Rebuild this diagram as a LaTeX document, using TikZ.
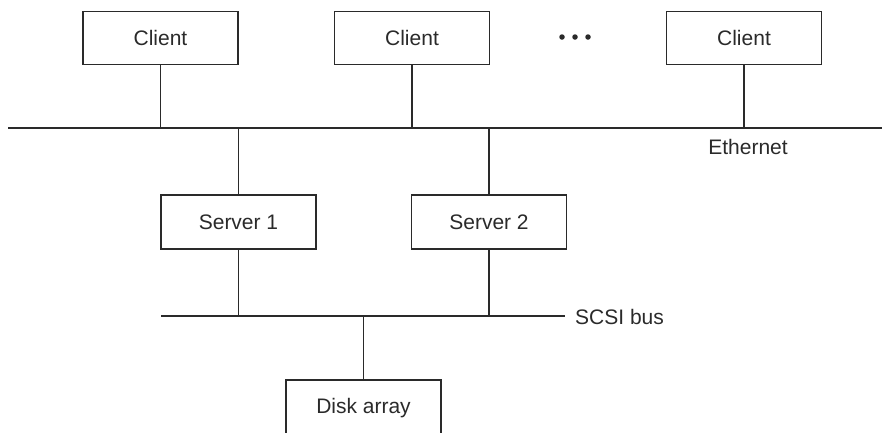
\documentclass[tikz,border=0pt]{standalone}
\usepackage{fontspec}
\setmainfont{Liberation Sans}
\definecolor{ink}{HTML}{2A2A2A}
\begin{document}
\begin{tikzpicture}[x=1pt,y=-1pt,
  box/.style={draw=ink,line width=1.1pt,minimum width=155pt,minimum height=53pt,inner sep=0pt,font=\fontsize{21}{24}\selectfont,text=ink},
  wire/.style={draw=ink,line width=1.1pt},
  lbl/.style={font=\fontsize{21}{24}\selectfont,text=ink,inner sep=0pt},
  dot/.style={circle,fill=ink,minimum size=5.5pt,inner sep=0pt}]
\useasboundingbox (0,0) rectangle (882,432);
\clip (0,0) rectangle (882,432);
\node[box] (c1) at (160.5,38) {Client};
\node[box] (c2) at (412,38) {Client};
\node[box] (c3) at (744,38) {Client};
\node[dot] (d1) at (562,37) {};
\node[dot] (d2) at (575,37) {};
\node[dot] (d3) at (588,37) {};
\coordinate (ethL) at (8,128);
\coordinate (ethR) at (882,128);
\draw[wire] (ethL) -- (ethR);
\node[lbl] (eth) at (748,147) {Ethernet};
\node[box,minimum height=54pt] (s1) at (238.5,222) {Server 1};
\node[box,minimum height=54pt] (s2) at (489,222) {Server 2};
\coordinate (scL) at (161,316);
\coordinate (scR) at (565,316);
\draw[wire] (scL) -- (scR);
\node[lbl,anchor=west] (scsi) at (575,317) {SCSI bus};
\node[box,minimum height=56pt] (disk) at (363.5,408) {Disk array};
\foreach \n in {c1,c2,c3} \draw[wire] (\n.south) -- (\n.south |- ethL);
\foreach \n in {s1,s2} {
  \draw[wire] (\n.north) -- (\n.north |- ethL);
  \draw[wire] (\n.south) -- (\n.south |- scL);
}
\draw[wire] (disk.north) -- (disk.north |- scL);
\end{tikzpicture}
\end{document}
